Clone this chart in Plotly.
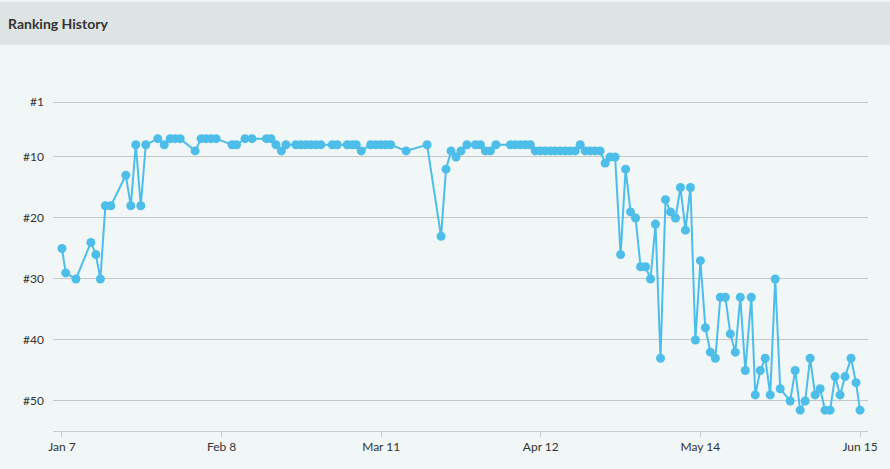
import pandas as pd
import plotly.graph_objects as go

# days after Jan 7 2016 and the rank on that day
start_date = "2016-01-07"
day_offsets = [
    0, 0.75, 2.8, 5.8, 6.8, 7.7, 8.7, 9.8, 12.8, 13.8, 14.8, 15.8, 16.8,
    19.2, 20.5, 21.7, 22.7, 23.7, 26.7, 27.9, 28.9, 29.9, 30.9, 34.1, 35,
    36.7, 38.1, 41, 41.9, 42.9, 44, 44.9, 46.9, 47.9, 48.9, 49.9, 50.9, 51.9,
    54.2, 55.2, 57.2, 58.2, 59, 60, 61.9, 62.9, 63.9, 64.9, 65.9, 69, 73.2,
    76, 77, 78, 79, 80, 81.2, 82.9, 83.9, 84.9, 85.9, 87, 89.9, 90.9, 91.9,
    92.9, 93.9, 94.9, 95.9, 96.9, 97.9, 98.9, 99.9, 100.9, 101.9, 102.9,
    103.9, 104.9, 105.9, 106.9, 107.9, 108.9, 109.9, 110.9,
    112, 113, 114, 115, 116, 117, 118, 119, 120, 121, 122, 123, 124, 125,
    126, 127, 128, 129, 130, 131, 132, 133, 134, 135, 136, 137, 138.2, 139,
    140, 141, 142, 143, 144, 146, 147, 148, 149, 150, 151, 152, 153, 154,
    155, 156, 157, 158.2, 159.2, 160,
]
ranks = [
    25, 29, 30, 24, 26, 30, 18, 18, 13, 18, 8, 18, 8,
    7, 8, 7, 7, 7, 9, 7, 7, 7, 7, 8, 8,
    7, 7, 7, 7, 8, 9, 8, 8, 8, 8, 8, 8, 8,
    8, 8, 8, 8, 8, 9, 8, 8, 8, 8, 8, 9, 8,
    23, 12, 9, 10, 9, 8, 8, 8, 9, 9, 8, 8, 8, 8,
    8, 8, 9, 9, 9, 9, 9, 9, 9, 9, 9,
    8, 9, 9, 9, 9, 11, 10, 10,
    26, 12, 19, 20, 28, 28, 30, 21, 43, 17, 19, 20, 15, 22,
    15, 40, 27, 38, 42, 43, 33, 33, 39, 42, 33, 45, 33, 49,
    45, 43, 49, 30, 48, 50, 45, 51.5, 50, 43, 49, 48, 51.5, 51.5,
    46, 49, 46, 43, 47, 51.5,
]
rank_ticks = [1, 10, 20, 30, 40, 50]
rank_labels = ["#1", "#10", "#20", "#30", "#40", "#50"]

dates = pd.Timestamp(start_date) + pd.to_timedelta(day_offsets, unit="D")
line_color = "#4dbde9"
day_ms = 86400000

fig = go.Figure()
fig.add_trace(go.Scatter(
    x=dates,
    y=ranks,
    mode="lines+markers",
    line=dict(color=line_color, width=2),
    marker=dict(color=line_color, size=9),
    showlegend=False,
))

# header band with the title
fig.add_shape(type="rect", xref="paper", yref="paper",
              x0=-0.07, x1=1.03, y0=1.0404, y1=1.157,
              fillcolor="#dee3e3", line_width=0, layer="below")
fig.add_annotation(text="<b>Ranking History</b>", xref="paper", yref="paper",
                   x=-0.058, y=1.099, xanchor="left", yanchor="middle",
                   showarrow=False, font=dict(size=14, color="#333333"))

fig.update_layout(
    width=890, height=469,
    margin=dict(l=53, r=20, t=60, b=38),
    paper_bgcolor="#f1f6f6",
    plot_bgcolor="#f1f6f6",
    font=dict(family="Lato", size=12, color="#333333"),
    xaxis=dict(
        type="date",
        range=[pd.Timestamp(start_date) - pd.Timedelta(days=1.8),
               pd.Timestamp(start_date) + pd.Timedelta(days=161.6)],
        tick0=start_date, dtick=32 * day_ms, tickformat="%b %-d",
        showgrid=False, showline=True, linecolor="#c8cccc", linewidth=1,
        ticks="outside", ticklen=5, tickcolor="#c8cccc",
        zeroline=False,
    ),
    yaxis=dict(
        range=[54.92, -5.9],
        tickmode="array", tickvals=rank_ticks, ticktext=rank_labels,
        showgrid=True, gridcolor="#c4c8c8", gridwidth=1,
        zeroline=False, showline=False, ticks="", ticklabelstandoff=8,
    ),
)

fig.write_html("out.html", config={"displayModeBar": False},
               post_script="document.body.style.margin='0';")
